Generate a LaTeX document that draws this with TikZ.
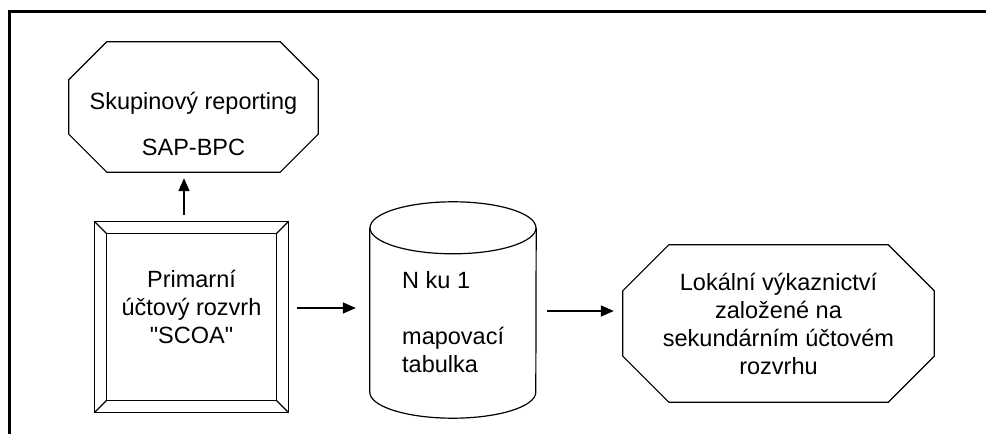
\documentclass[tikz,border=0pt]{standalone}
\usepackage{fontspec}
\setmainfont{Liberation Sans}[Ligatures=TeXOff]
\usetikzlibrary{arrows.meta}
\begin{document}
\begin{tikzpicture}[x=1pt,y=1pt,
  shapebox/.style={draw=none,inner sep=0pt},
  outline/.style={line width=1.2pt,line join=miter},
  txt/.style={inner sep=0pt,font=\fontsize{23.5}{28}\selectfont,text=black},
  arr/.style={line width=1.6pt,-{Triangle[length=13pt,width=11pt]}}]
\useasboundingbox (0,0) rectangle (986,434);
% frame
\draw[line width=3pt] (9.5,0) -- (9.5,422) -- (986,422);
% shapes (geometry holders)
\node[shapebox,minimum width=249pt,minimum height=130pt] (sk) at (193.5,327) {};
\node[shapebox,minimum width=193pt,minimum height=190pt] (pr) at (191.5,117) {};
\node[shapebox,minimum width=166pt,minimum height=216pt] (db) at (453,124) {};
\node[shapebox,minimum width=311pt,minimum height=157pt] (lo) at (778.5,110.5) {};
% top octagon
\draw[outline] ([xshift=38pt]sk.north west) -- ([xshift=-38pt]sk.north east)
  -- ([yshift=-38pt]sk.north east) -- ([yshift=38pt]sk.south east)
  -- ([xshift=-38pt]sk.south east) -- ([xshift=38pt]sk.south west)
  -- ([yshift=38pt]sk.south west) -- ([yshift=-38pt]sk.north west) -- cycle;
% right octagon
\draw[outline] ([xshift=46pt]lo.north west) -- ([xshift=-46pt]lo.north east)
  -- ([yshift=-46pt]lo.north east) -- ([yshift=46pt]lo.south east)
  -- ([xshift=-46pt]lo.south east) -- ([xshift=46pt]lo.south west)
  -- ([yshift=46pt]lo.south west) -- ([yshift=-46pt]lo.north west) -- cycle;
% double square
\draw[outline] (pr.south west) rectangle (pr.north east);
\draw[outline] ([shift={(12pt,12pt)}]pr.south west) rectangle ([shift={(-12pt,-12pt)}]pr.north east);
\draw[outline] (pr.south west) -- ([shift={(12pt,12pt)}]pr.south west);
\draw[outline] (pr.south east) -- ([shift={(-12pt,12pt)}]pr.south east);
\draw[outline] (pr.north west) -- ([shift={(12pt,-12pt)}]pr.north west);
\draw[outline] (pr.north east) -- ([shift={(-12pt,-12pt)}]pr.north east);
% cylinder
\draw[outline] ([yshift=-26pt]db.north) ellipse [x radius=83pt,y radius=26pt];
\draw[outline] ([yshift=-26pt]db.north west) -- ([yshift=26pt]db.south west)
  arc[start angle=180,end angle=360,x radius=83pt,y radius=26pt]
  -- ([yshift=-26pt]db.north east);
% texts
\node[txt,align=center] (skt) at ([yshift=-17pt]sk.center) {Skupinový reporting\\[18pt]SAP-BPC};
\node[txt,align=center] (prt) at ([yshift=10.5pt]pr.center) {Primarní\\účtový rozvrh\\"SCOA"};
\node[txt,align=left,anchor=west] (dbt) at (402,111.5) {N ku 1\\\mbox{}\\mapovací\\tabulka};
\node[txt,align=center] (lot) at (lo.center) {Lokální výkaznictví\\založené na\\sekundárním účtovém\\rozvrhu};
% connectors
\draw[arr,shorten <=7pt,shorten >=6pt] ([xshift=-7.5pt]pr.north) -- ([xshift=-7.5pt]pr.north |- sk.south);
\draw[arr,shorten <=9pt,shorten >=14pt] ([yshift=9pt]pr.east) -- ([yshift=9pt]pr.east -| db.west);
\draw[arr,shorten <=11pt,shorten >=9pt] ([yshift=-1pt]db.east) -- ([yshift=-1pt]db.east -| lo.west);
\end{tikzpicture}
\end{document}
